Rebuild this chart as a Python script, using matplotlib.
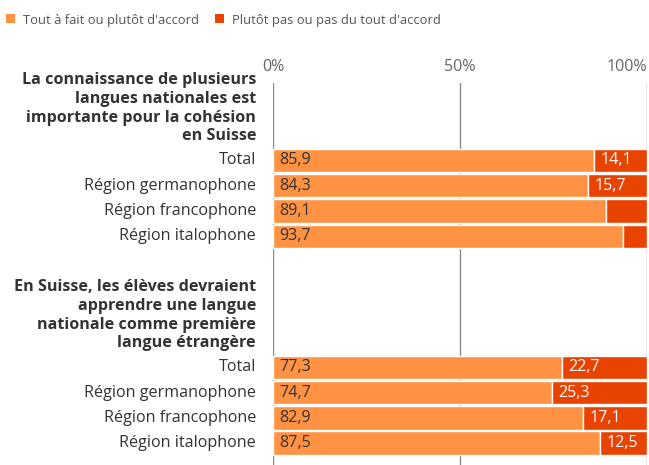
import matplotlib
matplotlib.use("Agg")
import matplotlib.pyplot as plt
from matplotlib.patches import Rectangle
import matplotlib.transforms as mtransforms

plt.rcParams['font.family'] = ['Open Sans', 'Noto Sans', 'DejaVu Sans']

# ---- data ----
series_names = ["Tout à fait ou plutôt d'accord", "Plutôt pas ou pas du tout d'accord"]
group_titles = [
    "La connaissance de plusieurs\nlangues nationales est\nimportante pour la cohésion\nen Suisse",
    "En Suisse, les élèves devraient\napprendre une langue\nnationale comme première\nlangue étrangère",
]
categories = ["Total", "Région germanophone", "Région francophone", "Région italophone"]
agree_g1 = [85.9, 84.3, 89.1, 93.7]
disagree_g1 = [14.1, 15.7, 10.9, 6.3]
agree_g2 = [77.3, 74.7, 82.9, 87.5]
disagree_g2 = [22.7, 25.3, 17.1, 12.5]
tick_values = [0, 50, 100]
tick_labels = ["0%", "50%", "100%"]

c_agree = "#FF9343"
c_dis = "#E84300"
txt = "#333333"
FS = 11.6
W, H = 649, 465

fig = plt.figure(figsize=(6.49, 4.65), dpi=100)
ax = fig.add_axes([273/W, 0, 374/W, (H-83)/H])

groups = [(agree_g1, disagree_g1), (agree_g2, disagree_g2)]
group_start = [0.0, 8.18]
trans = mtransforms.blended_transform_factory(fig.transFigure, ax.transData)

def fmt(v):
    return f"{v:.1f}".replace(".", ",")

for gi, (ag, dis) in enumerate(groups):
    ys = [group_start[gi] + i for i in range(len(categories))]
    ax.barh(ys, ag, height=0.93, color=c_agree, edgecolor="white", linewidth=1, zorder=2)
    ax.barh(ys, dis, left=ag, height=0.93, color=c_dis, edgecolor="white", linewidth=1, zorder=2)
    for y, a, d, cat in zip(ys, ag, dis, categories):
        ax.text(1.6, y, fmt(a), va="center", ha="left", fontsize=FS, color=txt, zorder=3)
        if d >= 12:
            ax.text(a + 1.7, y, fmt(d), va="center", ha="left", fontsize=FS, color="white", zorder=3)
        ax.text(256/W, y, cat, transform=trans, ha="right", va="center", fontsize=FS, color=txt)
    ax.text(256/W, group_start[gi] - 0.64, group_titles[gi], transform=trans,
            ha="right", va="bottom", fontsize=FS, fontweight="bold", color=txt,
            linespacing=1.22, multialignment="right")

ax.set_xlim(0, 100)
ax.set_ylim(12.04, -3.06)
ax.set_yticks([])
ax.xaxis.tick_top()
ax.set_xticks(tick_values)
ax.set_xticklabels(tick_labels, fontsize=FS, color="#666666")
ax.get_xticklabels()[-1].set_horizontalalignment("right")
ax.tick_params(axis="x", length=0, pad=6)
for s in ax.spines.values():
    s.set_visible(False)
for v in tick_values:
    ax.axvline(v, color="#8a8a8a", linewidth=1, zorder=1)

# legend (manual placement)
legend_x = [6, 215]
for lx, name, col in zip(legend_x, series_names, [c_agree, c_dis]):
    fig.patches.append(Rectangle((lx/W, 1 - 23/H), 9/W, 9/H, transform=fig.transFigure,
                                 facecolor=col, edgecolor="none"))
    fig.text((lx + 17)/W, 1 - 24/H, name, fontsize=9.4, color="#555555",
             ha="left", va="baseline")

fig.savefig("out.png", dpi=100)
